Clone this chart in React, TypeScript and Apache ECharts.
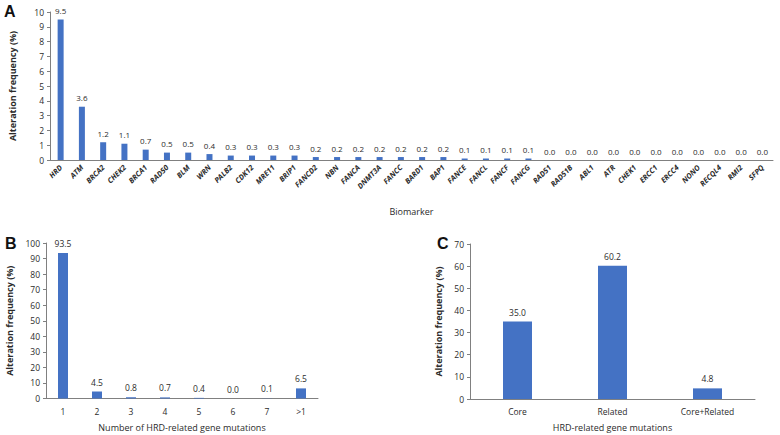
import React, { useEffect, useRef } from "react";
import * as echarts from "echarts";

const biomarkers = ["HRD", "ATM", "BRCA2", "CHEK2", "BRCA1", "RAD50", "BLM", "WRN", "PALB2", "CDK12", "MRE11", "BRIP1", "FANCD2", "NBN", "FANCA", "DNMT3A", "FANCC", "BARD1", "BAP1", "FANCE", "FANCL", "FANCF", "FANCG", "RAD51", "RAD51B", "ABL1", "ATR", "CHEK1", "ERCC1", "ERCC4", "NONO", "RECQL4", "RMI2", "SFPQ"];
const biomarkerFreq = [9.5, 3.6, 1.2, 1.1, 0.7, 0.5, 0.5, 0.4, 0.3, 0.3, 0.3, 0.3, 0.2, 0.2, 0.2, 0.2, 0.2, 0.2, 0.2, 0.1, 0.1, 0.1, 0.1, 0.0, 0.0, 0.0, 0.0, 0.0, 0.0, 0.0, 0.0, 0.0, 0.0, 0.0];

const mutationCounts = ["1", "2", "3", "4", "5", "6", "7", ">1"];
const mutationFreq = [93.5, 4.5, 0.8, 0.7, 0.4, 0.0, 0.1, 6.5];

const mutationTypes = ["Core", "Related", "Core+Related"];
const typeFreq = [35.0, 60.2, 4.8];

const BLUE = "#4472C4";
const TXT = "#2b2b2b";
const AX = "#808080";
const FONT = "'Open Sans', 'Noto Sans', sans-serif";

export default function App() {
  const ref = useRef<HTMLDivElement>(null);
  useEffect(() => {
    if (!ref.current) return;
    const chart = echarts.init(ref.current, null, { renderer: "svg" });
    const yAxisBase = (gridIndex: number, max: number, interval: number, nameGap: number) => ({
      type: "value",
      gridIndex,
      min: 0,
      max,
      interval,
      name: "Alteration frequency (%)",
      nameLocation: "middle",
      nameGap,
      nameTextStyle: { fontFamily: FONT, fontSize: 9, fontWeight: "bold", color: TXT },
      axisLine: { show: true, lineStyle: { color: AX, width: 1 } },
      axisTick: { show: true, length: 3, lineStyle: { color: AX } },
      splitLine: { show: false },
      axisLabel: { fontFamily: FONT, fontSize: 8.5, color: TXT, margin: 6 },
    });
    const xAxisBase = (gridIndex: number, data: string[], name: string, nameGap: number) => ({
      type: "category",
      gridIndex,
      data,
      name,
      nameLocation: "middle",
      nameGap,
      nameTextStyle: { fontFamily: FONT, fontSize: 9, color: TXT },
      axisLine: { show: true, lineStyle: { color: AX, width: 1 } },
      axisTick: { show: false },
      axisLabel: { fontFamily: FONT, fontSize: 8.5, color: TXT, margin: 8, interval: 0 },
    });
    const labelCfg = (fs: number) => ({
      show: true,
      position: "top",
      distance: 5,
      fontFamily: FONT,
      fontSize: fs,
      color: TXT,
      formatter: (p: any) => Number(p.value).toFixed(1),
    });
    const xA: any = xAxisBase(0, biomarkers, "Biomarker", 47);
    xA.axisLabel = { ...xA.axisLabel, rotate: 45, fontSize: 7.5, fontStyle: "italic", fontWeight: "bold", margin: 6 };
    chart.setOption({
      animation: false,
      backgroundColor: "#ffffff",
      grid: [
        { left: 48, top: 12, width: 725, height: 148 },
        { left: 46, top: 243, width: 272, height: 155.5 },
        { left: 470, top: 244, width: 285, height: 155 },
      ],
      xAxis: [
        xA,
        xAxisBase(1, mutationCounts, "Number of HRD-related gene mutations", 24),
        xAxisBase(2, mutationTypes, "HRD-related gene mutations", 24),
      ],
      yAxis: [yAxisBase(0, 10, 1, 33), yAxisBase(1, 100, 10, 32), yAxisBase(2, 70, 10, 27)],
      series: [
        { type: "bar", xAxisIndex: 0, yAxisIndex: 0, data: biomarkerFreq, barWidth: 6, itemStyle: { color: BLUE }, label: labelCfg(8) },
        { type: "bar", xAxisIndex: 1, yAxisIndex: 1, data: mutationFreq, barWidth: 10, itemStyle: { color: BLUE }, label: labelCfg(8.5) },
        { type: "bar", xAxisIndex: 2, yAxisIndex: 2, data: typeFreq, barWidth: 29, itemStyle: { color: BLUE }, label: labelCfg(8.5) },
      ],
      graphic: [
        { type: "text", left: 4, top: 3, style: { text: "A", font: "bold 16px 'Liberation Sans', Arial, sans-serif", fill: "#111" } },
        { type: "text", left: 5, top: 235, style: { text: "B", font: "bold 16px 'Liberation Sans', Arial, sans-serif", fill: "#111" } },
        { type: "text", left: 437, top: 235, style: { text: "C", font: "bold 16px 'Liberation Sans', Arial, sans-serif", fill: "#111" } },
      ],
    });
    return () => chart.dispose();
  }, []);
  return <div ref={ref} style={{ position: "absolute", left: 0, top: 0, width: 780, height: 435 }} />;
}
